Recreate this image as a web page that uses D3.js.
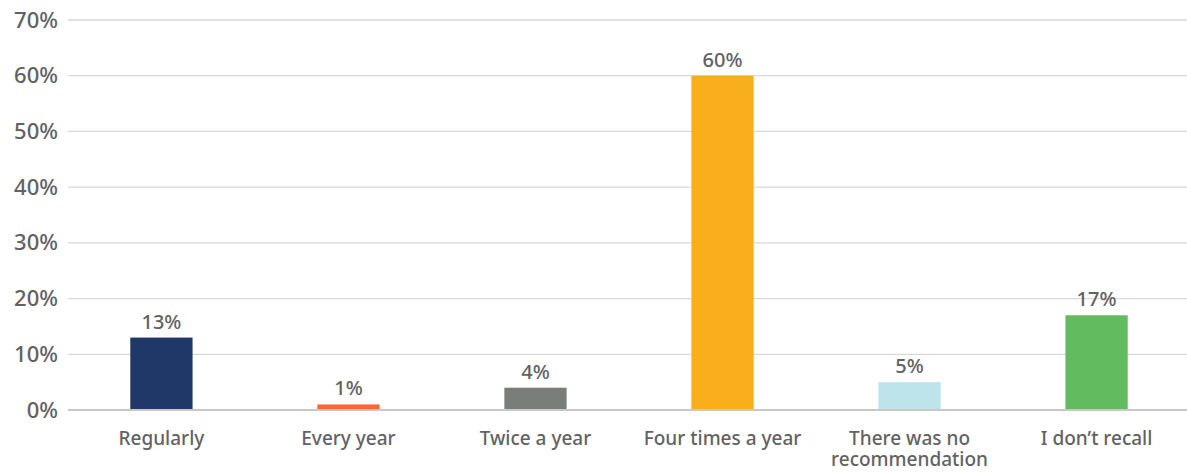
<!DOCTYPE html>
<html>
<head>
<meta charset="utf-8">
<script src="https://cdn.jsdelivr.net/npm/d3@7"></script>
<style>
  html, body { margin: 0; padding: 0; background: #fff; }
  svg { display: block; font-family: "Noto Sans", "Open Sans", sans-serif; font-weight: 500; }
</style>
</head>
<body>
<svg id="chart" width="1187" height="472"></svg>
<script>
// Survey answers: how often a check-up was recommended
const categories = [
  ["Regularly"],
  ["Every year"],
  ["Twice a year"],
  ["Four times a year"],
  ["There was no", "recommendation"],
  ["I don’t recall"]
];
const values = [13, 1, 4, 60, 5, 17];
const colors = ["#1f3868", "#ff6633", "#7a7e7a", "#f9ae1b", "#bde4ea", "#62bb5f"];
const yTicks = [0, 10, 20, 30, 40, 50, 60, 70];

const svg = d3.select("#chart");
const margin = { left: 68, right: 0, top: 20, bottom: 62 };
const W = 1187, H = 472;
const textColor = "#626262";
const fontFamily = "'Noto Sans', 'Open Sans', sans-serif";

const keys = categories.map((c, i) => i);
const x = d3.scaleBand()
  .domain(keys)
  .range([margin.left, 1190])
  .paddingInner(0.667)
  .paddingOuter(0.333);

const y = d3.scaleLinear()
  .domain([0, 70])
  .range([410, margin.top]);

// Horizontal gridlines
svg.append("g")
  .selectAll("line")
  .data(yTicks.filter(t => t > 0))
  .join("line")
  .attr("x1", margin.left)
  .attr("x2", W)
  .attr("y1", d => y(d))
  .attr("y2", d => y(d))
  .attr("stroke", "#d9d9d9")
  .attr("stroke-width", 1.3);

// Y axis labels
const yAxis = d3.axisLeft(y)
  .tickValues(yTicks)
  .tickFormat(d => d + "%")
  .tickSize(0)
  .tickPadding(10);
const yg = svg.append("g")
  .attr("transform", `translate(${margin.left},0)`)
  .call(yAxis);
yg.select(".domain").remove();
yg.selectAll("text")
  .attr("fill", textColor)
  .attr("font-size", 22)
  .attr("font-weight", 500)
  .attr("font-family", fontFamily);

// Bars
svg.append("g")
  .selectAll("rect")
  .data(values)
  .join("rect")
  .attr("x", (d, i) => x(i))
  .attr("width", x.bandwidth())
  .attr("y", d => y(d))
  .attr("height", d => y(0) - y(d))
  .attr("fill", (d, i) => colors[i]);

// Baseline
svg.append("line")
  .attr("x1", margin.left)
  .attr("x2", W)
  .attr("y1", y(0))
  .attr("y2", y(0))
  .attr("stroke", "#c8c8c8")
  .attr("stroke-width", 2);

// Value labels
svg.append("g")
  .selectAll("text")
  .data(values)
  .join("text")
  .attr("x", (d, i) => x(i) + x.bandwidth() / 2)
  .attr("y", d => y(d) - 9)
  .attr("text-anchor", "middle")
  .attr("fill", textColor)
  .attr("font-size", 20)
  .attr("font-family", fontFamily)
  .text(d => d + "%");

// Category labels (one text element per line)
const xAxis = d3.axisBottom(x)
  .tickSize(0)
  .tickFormat(() => "");
const xg = svg.append("g")
  .attr("transform", `translate(0,${y(0)})`)
  .call(xAxis);
xg.select(".domain").remove();
xg.selectAll(".tick").each(function(i) {
  const tick = d3.select(this);
  categories[i].forEach((line, k) => {
    tick.append("text")
      .attr("x", 0)
      .attr("y", 35 + k * 21)
      .attr("text-anchor", "middle")
      .attr("fill", textColor)
      .attr("font-size", 19)
      .attr("font-weight", 500)
      .attr("font-family", fontFamily)
      .text(line);
  });
});
</script>
</body>
</html>
